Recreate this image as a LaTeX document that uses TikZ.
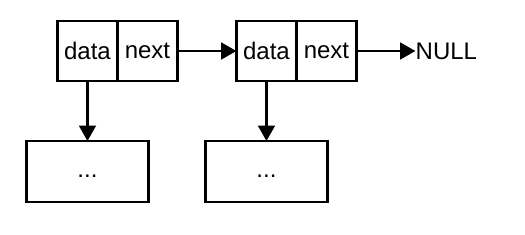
\documentclass[tikz,border=0pt]{standalone}
\usepackage{fontspec}
\setmainfont{Liberation Sans}
\usetikzlibrary{positioning,arrows.meta}

\begin{document}
\begin{tikzpicture}[
      font=\fontsize{18}{21}\selectfont,
      cell/.style={draw, line width=2pt, outer sep=0pt, inner sep=0pt,
                   minimum width=45pt, minimum height=45pt},
      payload/.style={draw, line width=2pt, outer sep=0pt, inner sep=0pt,
                      minimum width=91.5pt, minimum height=45.75pt},
      arr/.style={-{Triangle[length=11.5pt, width=12.5pt]}, line width=1.9pt}
    ]
    \useasboundingbox (0,0) rectangle (393.75pt,-176.25pt);

    % First list node
    \node[cell] (data1) at (65.6pt,-38.25pt) {data};
    \node[cell, anchor=west] (next1) at (data1.east) {next};

    % Second list node
    \node[cell, right=44.25pt of next1] (data2) {data};
    \node[cell, anchor=west] (next2) at (data2.east) {next};
    \node[right=44.25pt of next2, inner sep=0pt, anchor=west] (null) {NULL};

    % Payload boxes
    \node[payload, below=45pt of data1] (item1) {\vphantom{Xy}...};
    \node[payload, below=45pt of data2] (item2) {\vphantom{Xy}...};

    \draw[arr] (next1) -- (data2);
    \draw[arr] (next2) -- (null);
    \draw[arr] (data1) -- (item1);
    \draw[arr] (data2) -- (item2);
  \end{tikzpicture}
\end{document}
